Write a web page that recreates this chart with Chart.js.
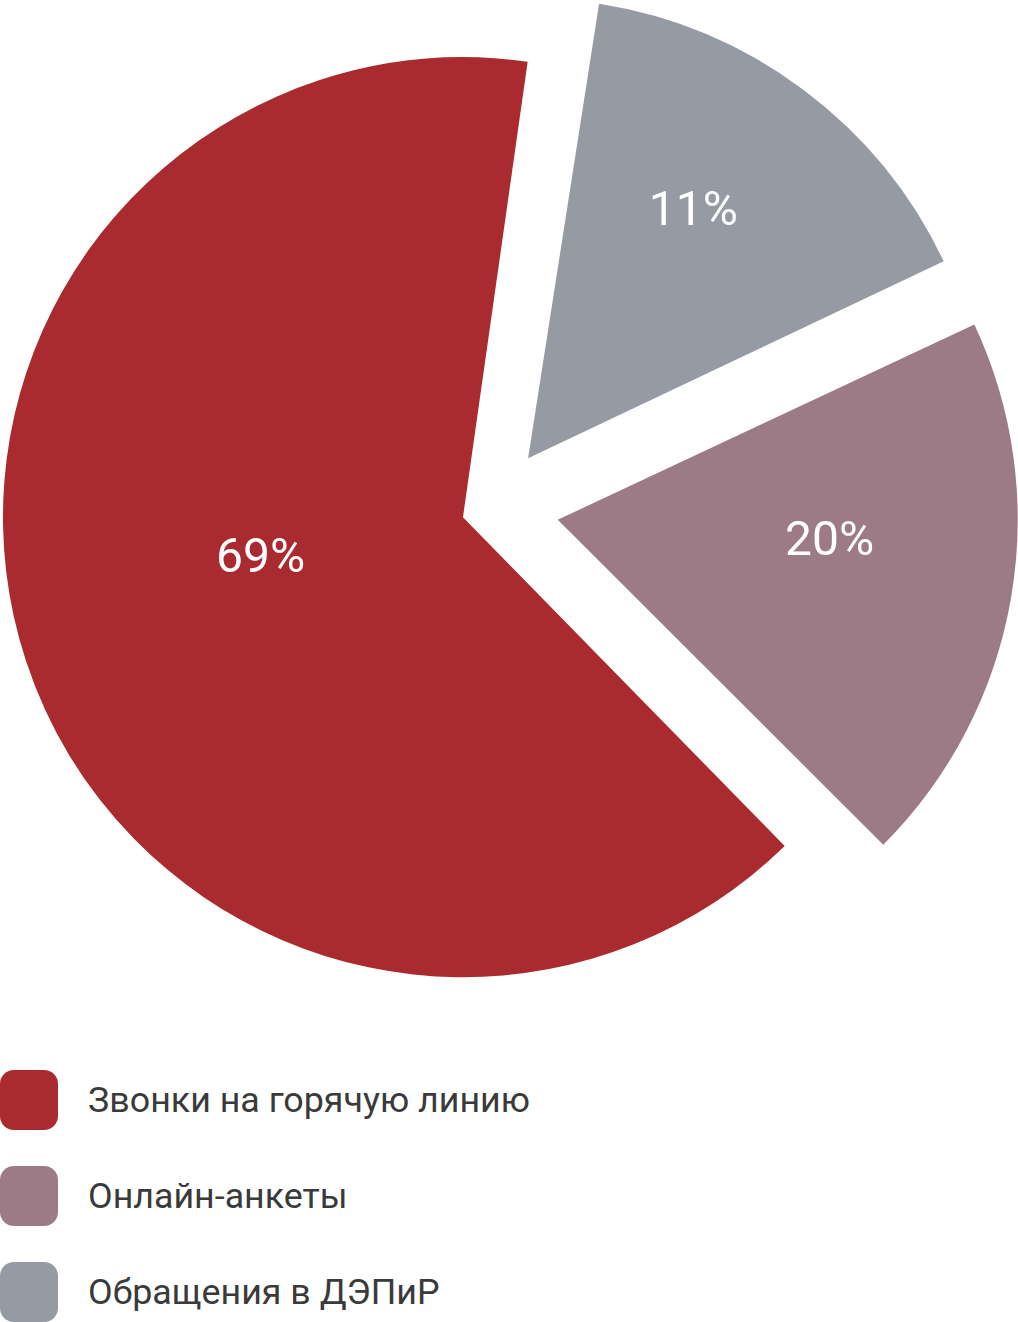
<!DOCTYPE html>
<html lang="ru">
<head>
<meta charset="utf-8">
<script src="https://cdn.jsdelivr.net/npm/chart.js@4/dist/chart.umd.min.js"></script>
<style>
  html, body { margin: 0; padding: 0; background: #ffffff; }
  body { width: 1018px; height: 1322px; position: relative; overflow: hidden; font-family: Roboto, "Noto Sans", sans-serif; }
  #wrap { position: absolute; left: 0; top: 0; width: 1018px; height: 1016px; }
  #legend { position: absolute; left: 0; top: 1070px; margin: 0; padding: 0; list-style: none; }
  #legend li { display: flex; align-items: center; height: 60px; margin-bottom: 36px; }
  #legend .box { width: 58px; height: 60px; border-radius: 14px; flex: none; }
  #legend .txt { margin-left: 30px; font-size: 35.8px; color: #3a3a3a; white-space: nowrap; }
</style>
</head>
<body>
<div id="wrap"><canvas id="chart"></canvas></div>
<ul id="legend"></ul>
<script>
// Data (clockwise drawing order)
const categories = ['Звонки на горячую линию', 'Обращения в ДЭПиР', 'Онлайн-анкеты'];
const shares = [64.9, 15.6, 19.5];          // slice sizes as drawn
const labelTexts = ['69%', '11%', '20%'];   // printed labels
const colors = ['#a92b30', '#959aa3', '#9c7b86'];
const explode = [118, 248, 271];
const legendOrder = [0, 2, 1];

const equalizeRadius = {
  id: 'equalizeRadius',
  afterDatasetUpdate(chart, args) {
    const meta = args.meta, ctrl = meta.controller;
    meta.data.forEach(arc => {
      const t = (arc.options.offset || 0) / 4;
      const fix = 1 - Math.sin(Math.min(Math.PI, arc.circumference));
      arc.outerRadius = ctrl.outerRadius - t * fix;
    });
  }
};

const sliceLabels = {
  id: 'sliceLabels',
  afterDatasetsDraw(chart) {
    const ctx = chart.ctx;
    const meta = chart.getDatasetMeta(0);
    const R = meta.controller.outerRadius;
    ctx.save();
    ctx.fillStyle = '#ffffff';
    ctx.font = '400 48px Roboto';
    ctx.textAlign = 'center';
    ctx.textBaseline = 'bottom';
    meta.data.forEach((arc, i) => {
      const mid = (arc.startAngle + arc.endAngle) / 2;
      const t = (arc.options.offset || 0) / 4;
      const cx = arc.x + Math.cos(mid) * t;
      const cy = arc.y + Math.sin(mid) * t;
      const frac = arc.circumference > Math.PI ? 0.463 : 0.6;
      const x = cx + Math.cos(mid) * R * frac;
      const y = cy + Math.sin(mid) * R * frac;
      ctx.fillText(labelTexts[i], x, y);
    });
    ctx.restore();
  }
};

new Chart(document.getElementById('chart'), {
  type: 'pie',
  data: {
    labels: categories,
    datasets: [{
      data: shares,
      backgroundColor: colors,
      borderWidth: 0,
      offset: explode,
      hoverOffset: explode
    }]
  },
  options: {
    responsive: true,
    maintainAspectRatio: false,
    animation: false,
    events: [],
    rotation: 135.03,
    radius: 460,
    layout: { padding: { left: 0, right: 36, top: 0, bottom: 0 } },
    plugins: { legend: { display: false }, tooltip: { enabled: false } }
  },
  plugins: [equalizeRadius, sliceLabels]
});

const legend = document.getElementById('legend');
legendOrder.forEach(i => {
  const li = document.createElement('li');
  const box = document.createElement('span');
  box.className = 'box';
  box.style.background = colors[i];
  const txt = document.createElement('span');
  txt.className = 'txt';
  txt.textContent = categories[i];
  li.appendChild(box); li.appendChild(txt);
  legend.appendChild(li);
});
</script>
</body>
</html>
